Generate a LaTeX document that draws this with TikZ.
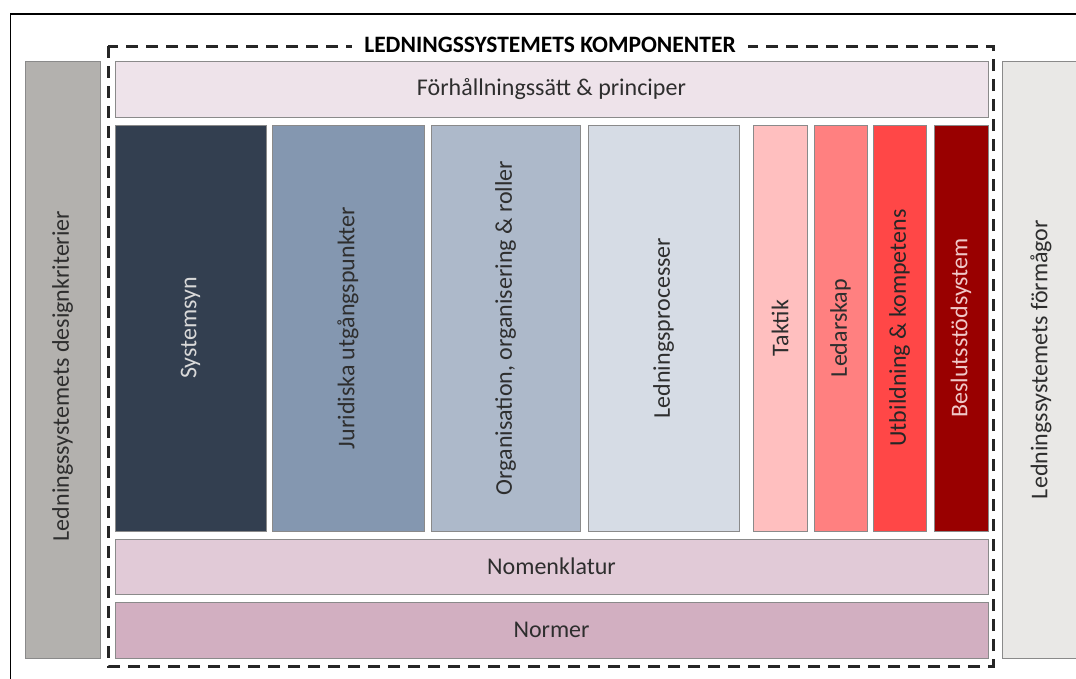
\documentclass[tikz,border=0pt]{standalone}
\usepackage{fontspec}
\setmainfont{Carlito}
\definecolor{leftgray}{HTML}{B3B1AE}
\definecolor{rightgray}{HTML}{E9E8E6}
\definecolor{topband}{HTML}{EEE3EA}
\definecolor{sysc}{HTML}{333F50}
\definecolor{jurc}{HTML}{8497B0}
\definecolor{orgc}{HTML}{ADB9CA}
\definecolor{procc}{HTML}{D6DCE5}
\definecolor{taktc}{HTML}{FFBFBF}
\definecolor{ledc}{HTML}{FF8080}
\definecolor{utbc}{HTML}{FF4747}
\definecolor{beslc}{HTML}{990000}
\definecolor{nomc}{HTML}{E1CAD7}
\definecolor{normc}{HTML}{D2AFC1}
\definecolor{boxline}{HTML}{8A8A8A}
\definecolor{txt}{HTML}{2E2E2E}
\definecolor{lighttxt}{HTML}{D9D9D9}
\definecolor{besltxt}{HTML}{F0C8C8}
\tikzset{
  panel/.style={draw=boxline, line width=1pt, inner sep=0pt, text=txt,
    font=\fontsize{24}{28}\selectfont},
}
\newcommand{\vtext}[1]{\rotatebox{90}{#1}}
\begin{document}
\begin{tikzpicture}[x=1pt,y=-1pt]
\useasboundingbox (0,0) rectangle (1076,678);
\fill[white] (0,0) rectangle (1076,678);
% outer frame
\coordinate (fb) at (10.5,680);
\coordinate (fc) at (10.5,14);
\coordinate (fr) at (1080,14);
\draw[line width=1.5pt, black] (fb) -- (fc) -- (fr);
% dashed box
\draw[line width=3pt, black!85, dash pattern=on 12pt off 8pt] (108,46) rectangle (993,666);
\node[fill=white, inner xsep=12pt, inner ysep=2pt, font=\fontsize{23.5}{26}\selectfont\bfseries] (title) at (550,45) {LEDNINGSSYSTEMETS KOMPONENTER};
% side boxes
\node[panel, fill=leftgray, minimum width=75pt, minimum height=597pt] (left) at (62.5,359.5) {};
\node[text=txt, font=\fontsize{24}{28}\selectfont, inner sep=0pt] (lefttxt) at (62.5,376) {\vtext{Ledningssystemets designkriterier}};
\node[panel, fill=rightgray, minimum width=78pt, minimum height=597pt] (right) at (1041,359.5) {\vtext{Ledningssystemets förmågor}};
% horizontal bands
\node[panel, fill=topband, minimum width=873pt, minimum height=56pt] (top) at (551.5,89) {Förhållningssätt \& principer};
\node[panel, fill=nomc, minimum width=873pt, minimum height=55pt] (nom) at (551.5,566.5) {Nomenklatur};
\node[panel, fill=normc, minimum width=873pt, minimum height=56pt] (norm) at (551.5,630) {Normer};
% columns
\node[panel, fill=sysc, text=lighttxt, minimum width=151pt, minimum height=406pt] (sys) at (190.5,328) {\vtext{Systemsyn}};
\node[panel, fill=jurc, minimum width=152pt, minimum height=406pt] (jur) at (348,328) {\vtext{Juridiska utgångspunkter}};
\node[panel, fill=orgc, minimum width=149pt, minimum height=406pt] (org) at (505.5,328) {\vtext{Organisation, organisering \& roller}};
\node[panel, fill=procc, minimum width=151pt, minimum height=406pt] (proc) at (663.5,328) {\vtext{Ledningsprocesser}};
\node[panel, fill=taktc, minimum width=54pt, minimum height=406pt] (takt) at (780,328) {\vtext{Taktik}};
\node[panel, fill=ledc, minimum width=53pt, minimum height=406pt] (led) at (840.5,328) {\vtext{Ledarskap}};
\node[panel, fill=utbc, text=black!85, minimum width=53pt, minimum height=406pt] (utb) at (899.5,328) {\vtext{Utbildning \& kompetens}};
\node[panel, fill=beslc, text=besltxt, minimum width=54pt, minimum height=406pt] (besl) at (961,328) {\vtext{Beslutsstödsystem}};
\end{tikzpicture}
\end{document}
